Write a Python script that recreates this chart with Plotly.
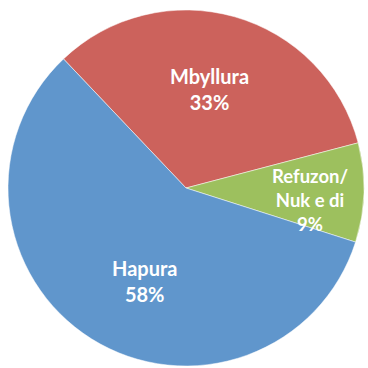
import math
import plotly.graph_objects as go

# Survey answers and their shares (%)
labels = ["Mbyllura", "Refuzon/<br>Nuk e di", "Hapura"]
values = [33, 9, 58]
colors = ["#CC625C", "#9DC05E", "#6096CC"]

start_angle = -43.5                 # degrees clockwise from 12 o'clock
label_radius = [0.57, 0.70, 0.57]   # fraction of the pie radius for each label
label_turn = [-2.7, 4.0, -8.0]      # small angular nudge off the slice middle
label_size = [20, 18.5, 20]

fig = go.Figure(
    go.Pie(
        labels=labels,
        values=values,
        sort=False,
        direction="clockwise",
        rotation=start_angle,
        marker=dict(colors=colors, line=dict(color="white", width=0.5)),
        textinfo="none",
        hoverinfo="label+percent",
        showlegend=False,
    )
)

# Place each label near the middle angle of its slice
total = sum(values)
acc = 0.0
for lab, val, rf, turn, fs in zip(labels, values, label_radius, label_turn, label_size):
    mid = math.radians(start_angle + 360 * (acc + val / 2) / total + turn)
    acc += val
    x = 0.5 + 0.5 * rf * math.sin(mid)
    y = 0.5 + 0.5 * rf * math.cos(mid)
    pct = round(100 * val / total)
    fig.add_annotation(
        x=x, y=y, xref="paper", yref="paper",
        text=f"<b>{lab}<br>{pct}%</b>",
        showarrow=False,
        font=dict(family="Lato", size=fs, color="white"),
        align="center",
        xanchor="center", yanchor="middle",
    )

fig.update_layout(
    width=368,
    height=368,
    margin=dict(l=8, r=4, t=10, b=2),
    paper_bgcolor="white",
    plot_bgcolor="white",
)

fig.write_html("out.html")
